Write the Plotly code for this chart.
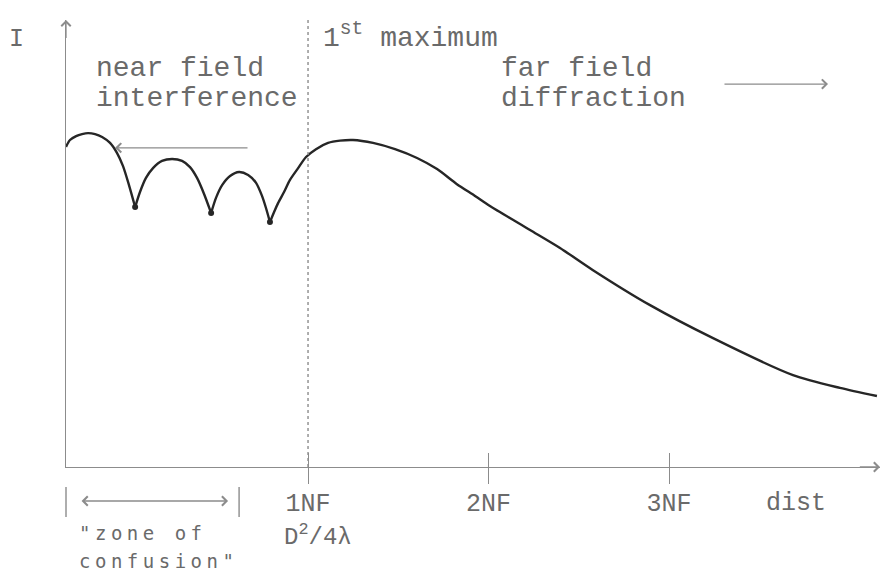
import plotly.graph_objects as go

# ---- data (distance in units of NF, intensity relative to 1st maximum) ----
lobe1_dist = [-0.341, -0.319, -0.285, -0.252, -0.219, -0.180, -0.141, -0.097, -0.058, -0.025, 0.008, 0.042]
lobe1_int = [0.979, 1.000, 1.012, 1.018, 1.021, 1.018, 1.009, 0.991, 0.960, 0.920, 0.862, 0.795]

lobe2_dist = [0.042, 0.069, 0.102, 0.141, 0.191, 0.247, 0.302, 0.346, 0.385, 0.424, 0.463]
lobe2_int = [0.795, 0.841, 0.884, 0.914, 0.936, 0.942, 0.936, 0.917, 0.884, 0.835, 0.777]

lobe3_dist = [0.463, 0.490, 0.524, 0.568, 0.618, 0.668, 0.712, 0.745, 0.767, 0.789]
lobe3_int = [0.777, 0.823, 0.862, 0.890, 0.902, 0.893, 0.869, 0.829, 0.792, 0.749]

far_dist = [0.789, 0.812, 0.834, 0.867, 0.900, 0.945, 0.989, 1.044, 1.111, 1.177, 1.249, 1.360,
            1.482, 1.604, 1.715, 1.825, 1.925, 2.008, 2.230, 2.396, 2.579, 2.895, 3.244, 3.687, 3.947, 4.152]
far_int = [0.749, 0.780, 0.807, 0.841, 0.878, 0.914, 0.948, 0.972, 0.991, 0.998, 1.000, 0.991,
           0.972, 0.945, 0.911, 0.865, 0.829, 0.798, 0.725, 0.670, 0.602, 0.495, 0.394, 0.281, 0.242, 0.217]

tick_vals = [1, 2, 3]
tick_text = ["1NF", "2NF", "3NF"]

X_RANGE = [-0.341, 4.169]
Y_RANGE = [0, 1.367]
PLOT_W, PLOT_H = 814, 447   # pixel size of the plotting area

TXT = "#6a6a6a"
AX = "#8c8c8c"
CURVE = "#262626"
MONO = "Liberation Mono, Courier New, monospace"


def px(xv, yv):
    """data -> paper fraction (works outside the axis ranges too)"""
    return ((xv - X_RANGE[0]) / (X_RANGE[1] - X_RANGE[0]),
            (yv - Y_RANGE[0]) / (Y_RANGE[1] - Y_RANGE[0]))


def dpx(dx, dy):
    """data offset -> pixel offset (screen y grows downwards)"""
    return (dx / (X_RANGE[1] - X_RANGE[0]) * PLOT_W,
            -dy / (Y_RANGE[1] - Y_RANGE[0]) * PLOT_H)


fig = go.Figure()

segments = [(lobe1_dist, lobe1_int), (lobe2_dist, lobe2_int),
            (lobe3_dist, lobe3_int), (far_dist, far_int)]
for d, i in segments:
    fig.add_trace(go.Scatter(x=d, y=i, mode="lines",
                             line=dict(color=CURVE, width=2.4, shape="spline", smoothing=0.7),
                             hoverinfo="skip", showlegend=False, cliponaxis=False))

# cusp dots at the interference minima
cusp_d = [lobe1_dist[-1], lobe2_dist[-1], lobe3_dist[-1]]
cusp_i = [lobe1_int[-1], lobe2_int[-1], lobe3_int[-1]]
fig.add_trace(go.Scatter(x=cusp_d, y=cusp_i, mode="markers",
                         marker=dict(color=CURVE, size=6), hoverinfo="skip", showlegend=False))

annotations = []


def txt(text, x, y, size=28, xanchor="left", family=MONO, color=TXT):
    xp, yp = px(x, y)
    annotations.append(dict(text=text, x=xp, y=yp, xref="paper", yref="paper", showarrow=False,
                            xanchor=xanchor, yanchor="middle", borderpad=0,
                            font=dict(family=family, size=size, color=color)))


def arrow(x0, y0, x1, y1, side="end"):
    xp, yp = px(x1, y1)
    ox, oy = dpx(x0 - x1, y0 - y1)
    annotations.append(dict(text="", x=xp, y=yp, ax=ox, ay=oy, xref="paper", yref="paper",
                            showarrow=True, arrowhead=4,
                            startarrowhead=4, arrowside=side, arrowsize=1.4,
                            startarrowsize=1.4, arrowwidth=1.3, arrowcolor=AX))


txt("I", -0.618, 1.306, size=25, xanchor="center")
txt("near field", -0.180, 1.220)
txt("interference", -0.180, 1.128)
txt("1<sup>st</sup> maximum", 1.075, 1.318)
txt("far field", 2.064, 1.220)
txt("diffraction", 2.064, 1.128)
txt("D<sup>2</sup>/4λ", 0.862, -0.209, size=24)
txt("dist", 3.532, -0.112, size=25)
zone_font = "DejaVu Sans Mono, monospace"
txt('<span style="letter-spacing:4.5px">"zone of</span>', -0.274, -0.202, size=19, family=zone_font)
txt('<span style="letter-spacing:4.5px">confusion"</span>', -0.274, -0.287, size=19, family=zone_font)

arrow(3.299, 1.171, 3.881, 1.171)
arrow(0.673, 0.976, -0.069, 0.976)
arrow(-0.263, -0.104, 0.557, -0.104, side="end+start")

# axis arrow heads
arrow(X_RANGE[0], Y_RANGE[1] - 0.06, X_RANGE[0], Y_RANGE[1])
arrow(X_RANGE[1] - 0.12, 0, X_RANGE[1], 0)

shapes = [dict(type="line", x0=1, x1=1, y0=0, y1=Y_RANGE[1], xref="x", yref="y",
               line=dict(color=AX, width=1.4, dash="dot"))]
for bx in (-0.341, 0.618):
    x0p, y0p = px(bx, -0.061)
    _, y1p = px(bx, -0.153)
    shapes.append(dict(type="line", x0=x0p, x1=x0p, y0=y0p, y1=y1p, xref="paper", yref="paper",
                       line=dict(color=AX, width=1.4)))

fig.update_layout(
    width=890, height=573,
    margin=dict(l=66, r=10, t=20, b=106),
    paper_bgcolor="white", plot_bgcolor="white",
    showlegend=False,
    xaxis=dict(range=X_RANGE, showgrid=False, zeroline=False, showline=True,
               linecolor=AX, linewidth=1.4, ticks="", tickvals=tick_vals, ticktext=tick_text,
               ticklabelstandoff=13,
               tickfont=dict(family=MONO, size=25, color=TXT)),
    xaxis2=dict(range=X_RANGE, overlaying="x", anchor="y", side="bottom",
                showgrid=False, zeroline=False, showline=False, ticks="inside",
                ticklen=14, tickwidth=1.4, tickcolor=AX, tickvals=tick_vals,
                showticklabels=False),
    xaxis3=dict(range=X_RANGE, overlaying="x", anchor="y", side="bottom",
                showgrid=False, zeroline=False, showline=False, ticks="outside",
                ticklen=16, tickwidth=1.4, tickcolor=AX, tickvals=tick_vals,
                showticklabels=False),
    yaxis=dict(range=Y_RANGE, showgrid=False, zeroline=False, showline=True,
               linecolor=AX, linewidth=1.4, showticklabels=False, ticks=""),
    annotations=annotations,
    shapes=shapes,
)
# dummy traces to activate the overlay axes carrying the tick marks
for ax_name in ("x2", "x3"):
    fig.add_trace(go.Scatter(x=[None], y=[None], xaxis=ax_name, yaxis="y", showlegend=False,
                             hoverinfo="skip"))

fig.write_html("out.html")
